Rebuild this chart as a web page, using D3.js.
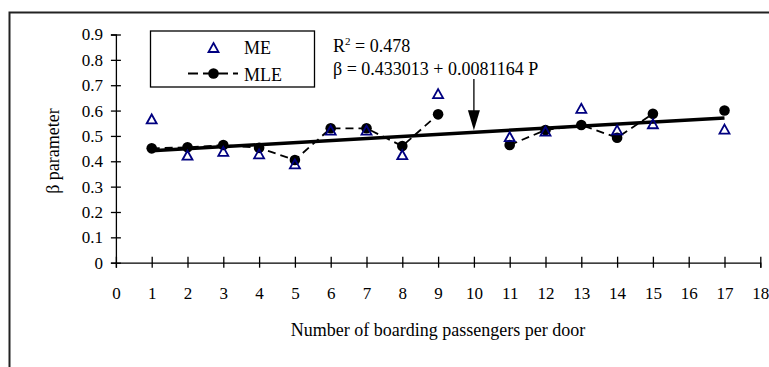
<!DOCTYPE html>
<html>
<head>
<meta charset="utf-8">
<script src="https://cdn.jsdelivr.net/npm/d3@7"></script>
<style>
  body { margin: 0; background: #fff; }
  text { font-family: "Liberation Serif", "Times New Roman", serif; }
</style>
</head>
<body>
<div id="chart"></div>
<script>
// Data
var passengers = [1, 2, 3, 4, 5, 6, 7, 8, 9, 10, 11, 12, 13, 14, 15, 16, 17];
var meValues  = [0.565, 0.422, 0.437, 0.427, 0.388, 0.521, 0.521, 0.424, 0.665, null,
                 0.495, 0.517, 0.607, 0.522, 0.546, null, 0.525];
var mleValues = [0.451, 0.455, 0.464, 0.453, 0.405, 0.530, 0.530, 0.460, 0.585, null,
                 0.464, 0.523, 0.543, 0.493, 0.587, null, 0.600];
var xTicks = d3.range(0, 19, 1);
var yTicks = [0, 0.1, 0.2, 0.3, 0.4, 0.5, 0.6, 0.7, 0.8, 0.9];
var fitA = 0.433013, fitB = 0.0081164;   // beta = a + b P
var fitRange = [1, 17];

// Parameters
var width = 769,
    height = 367,
    fontSize = 17;

var svg = d3.select("#chart").append("svg")
    .attr("width", width)
    .attr("height", height);

// outer frame (only top & left visible in the original)
svg.append("path")
    .attr("d", "M9.5," + height + " V12.5 H" + width)
    .style("fill", "none")
    .style("stroke", "#222")
    .style("stroke-width", 2);

var x = d3.scaleLinear().domain([0, 18]).range([115.9, 760.3]);
var y = d3.scaleLinear().domain([0, 0.9]).range([262.7, 34.5]);

// Axes
var gx = svg.append("g")
    .attr("transform", "translate(0," + y(0) + ")")
    .call(d3.axisBottom(x).tickValues(xTicks).tickSizeOuter(0).tickSize(5).tickPadding(20)
      .tickFormat(d3.format("d")));
gx.selectAll(".tick line").attr("y1", -6).attr("y2", 5);

var gy = svg.append("g")
    .attr("transform", "translate(" + x(0) + ",0)")
    .call(d3.axisLeft(y).tickValues(yTicks).tickSizeOuter(0).tickSize(5).tickPadding(8)
      .tickFormat(function(d) { return d === 0 ? "0" : d3.format(".1f")(d); }));
gy.selectAll(".tick line").attr("x1", 5).attr("x2", -5);

svg.selectAll(".domain, .tick line")
    .style("stroke", "#000")
    .style("stroke-width", 1.3);
svg.selectAll(".tick text")
    .style("font-family", "Liberation Serif")
    .style("font-size", fontSize + "px")
    .style("fill", "#000");
gx.selectAll(".tick text").attr("dy", "0.68em");

// Axis titles
svg.append("text")
    .attr("x", 438)
    .attr("y", 336)
    .attr("text-anchor", "middle")
    .style("font-size", "18px")
    .text("Number of boarding passengers per door");

svg.append("text")
    .attr("transform", "translate(59,151) rotate(-90)")
    .attr("text-anchor", "middle")
    .style("font-size", "18px")
    .text("β parameter");

// Regression line
svg.append("line")
    .attr("x1", x(fitRange[0]))
    .attr("y1", y(fitA + fitB * fitRange[0]))
    .attr("x2", x(fitRange[1]))
    .attr("y2", y(fitA + fitB * fitRange[1]))
    .style("stroke", "#000")
    .style("stroke-width", 3.5);

// MLE series: dashed line with gaps where data is missing
var mleData = passengers.map(function(p, i) { return { p: p, v: mleValues[i] }; });
var meData = passengers.map(function(p, i) { return { p: p, v: meValues[i] }; });

var mleLine = d3.line()
    .defined(function(d) { return d.v !== null; })
    .x(function(d) { return x(d.p); })
    .y(function(d) { return y(d.v); });

svg.append("path")
    .datum(mleData)
    .attr("d", mleLine)
    .style("fill", "none")
    .style("stroke", "#000")
    .style("stroke-width", 1.8)
    .style("stroke-dasharray", "8,5");

svg.append("g").selectAll("circle")
    .data(mleData.filter(function(d) { return d.v !== null; }))
    .enter().append("circle")
      .attr("cx", function(d) { return x(d.p); })
      .attr("cy", function(d) { return y(d.v); })
      .attr("r", 5.3)
      .style("fill", "#000");

// ME series: open navy triangles
var triPath = "M0,-5 L5,4 L-5,4 Z";
svg.append("g").selectAll("path")
    .data(meData.filter(function(d) { return d.v !== null; }))
    .enter().append("path")
      .attr("d", triPath)
      .attr("transform", function(d) { return "translate(" + x(d.p) + "," + y(d.v) + ")"; })
      .style("fill", "none")
      .style("stroke", "#000080")
      .style("stroke-width", 1.8);

// Legend
var legend = svg.append("g").attr("class", "legend");
legend.append("rect")
    .attr("x", 150.5).attr("y", 31)
    .attr("width", 164).attr("height", 56)
    .style("fill", "#fff")
    .style("stroke", "#000")
    .style("stroke-width", 1.3);
legend.append("path")
    .attr("d", triPath)
    .attr("transform", "translate(213.5,48)")
    .style("fill", "none")
    .style("stroke", "#000080")
    .style("stroke-width", 1.8);
legend.append("text")
    .attr("x", 244).attr("y", 54)
    .style("font-size", "18px")
    .text("ME");
legend.append("line")
    .attr("x1", 188).attr("x2", 238)
    .attr("y1", 73.5).attr("y2", 73.5)
    .style("stroke", "#000")
    .style("stroke-width", 1.8)
    .style("stroke-dasharray", "10,5");
legend.append("circle")
    .attr("cx", 213.5).attr("cy", 73.5).attr("r", 5.3)
    .style("fill", "#000");
legend.append("text")
    .attr("x", 244).attr("y", 81)
    .style("font-size", "18px")
    .text("MLE");

// Annotation
var r2 = svg.append("text")
    .attr("x", 333).attr("y", 52)
    .style("font-size", "18px");
r2.append("tspan").text("R");
r2.append("tspan").attr("dy", -7).style("font-size", "11px").text("2");
r2.append("tspan").attr("dy", 7).text(" = 0.478");

svg.append("text")
    .attr("x", 333).attr("y", 75)
    .style("font-size", "18px")
    .text("β = " + fitA + " + " + fitB + " P");

// Arrow pointing at the fitted line at P = 10
var ax = x(10),
    tipY = y(fitA + fitB * 10) - 2;
svg.append("line")
    .attr("x1", ax).attr("x2", ax)
    .attr("y1", 79).attr("y2", tipY - 15)
    .style("stroke", "#000")
    .style("stroke-width", 1.3);
svg.append("path")
    .attr("d", "M" + (ax - 6) + "," + (tipY - 20) + " L" + (ax + 6) + "," + (tipY - 20) + " L" + ax + "," + tipY + " Z")
    .style("fill", "#000");
</script>
</body>
</html>
